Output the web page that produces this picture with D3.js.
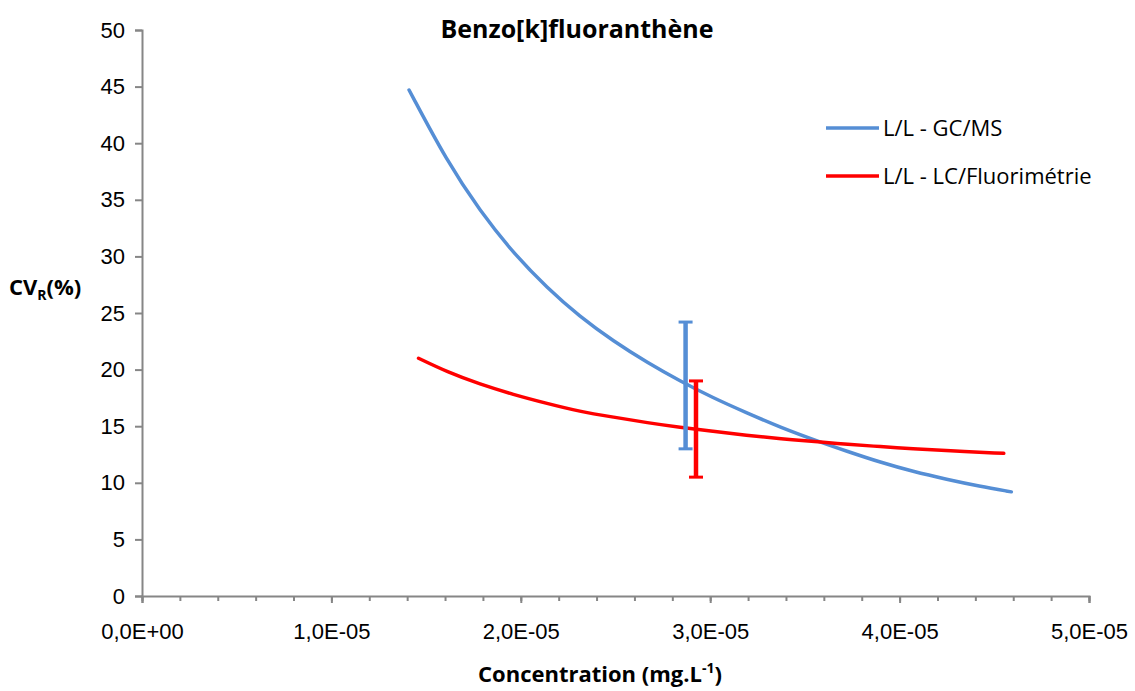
<!DOCTYPE html>
<html>
<head>
<meta charset="utf-8">
<script src="https://cdn.jsdelivr.net/npm/d3@7"></script>
<style>
  body { margin: 0; background: #fff; }
  svg { font-family: "Open Sans", sans-serif; }
</style>
</head>
<body>
<svg id="chart" width="1135" height="691"></svg>
<script>
// Values
const seriesNames = ["L/L - GC/MS", "L/L - LC/Fluorimétrie"];
const seriesColors = ["#558ed5", "#ff0000"];

// concentration (mg/L), CV_R (%)
const gcmsX = [1.41e-5, 1.61e-5, 1.785e-5, 1.96e-5, 2.14e-5, 2.31e-5, 2.49e-5, 2.67e-5, 2.84e-5,
  3.015e-5, 3.19e-5, 3.37e-5, 3.58e-5, 3.72e-5, 3.90e-5, 4.07e-5, 4.25e-5, 4.42e-5, 4.59e-5];
const gcmsY = [44.7, 38.4, 34.0, 30.3, 27.2, 24.7, 22.5, 20.6, 19.0,
  17.5, 16.2, 14.9, 13.6, 12.8, 11.8, 11.0, 10.3, 9.7, 9.2];

const lcX = [1.46e-5, 1.61e-5, 1.785e-5, 1.96e-5, 2.14e-5, 2.31e-5, 2.49e-5, 2.67e-5, 2.84e-5,
  3.015e-5, 3.19e-5, 3.37e-5, 3.58e-5, 3.72e-5, 3.90e-5, 4.07e-5, 4.25e-5, 4.55e-5];
const lcY = [21.0, 19.8, 18.7, 17.8, 17.0, 16.3, 15.8, 15.3, 14.9,
  14.55, 14.2, 13.9, 13.6, 13.4, 13.2, 13.0, 12.85, 12.6];

// error bars: x, low, high
const errX = [2.87e-5, 2.925e-5];
const errLow = [13.0, 10.5];
const errHigh = [24.2, 19.0];

const xTicks = [0, 1e-5, 2e-5, 3e-5, 4e-5, 5e-5];
const xTickLabels = ["0,0E+00", "1,0E-05", "2,0E-05", "3,0E-05", "4,0E-05", "5,0E-05"];
const yTicks = [0, 5, 10, 15, 20, 25, 30, 35, 40, 45, 50];

const svg = d3.select("#chart");
const margin = { top: 30, right: 46, bottom: 95, left: 142 };
const width = +svg.attr("width") - margin.left - margin.right;
const height = +svg.attr("height") - margin.top - margin.bottom;

const g = svg.append("g")
  .attr("transform", `translate(${margin.left},${margin.top})`);

const x = d3.scaleLinear().domain([0, 5e-5]).range([0, width]);
const y = d3.scaleLinear().domain([0, 50]).range([height, 0]);

const axisColor = "#868686";

// Y axis
const yAxis = g.append("g")
  .call(d3.axisLeft(y).tickValues(yTicks).tickSize(7).tickPadding(10));
yAxis.selectAll("text").attr("font-size", 22).attr("fill", "#000");

// X axis (minor ticks every 2E-06)
g.append("g")
  .attr("transform", `translate(0,${height})`)
  .call(d3.axisBottom(x).tickValues(d3.range(0, 26).map(i => i * 2e-6)).tickSize(5).tickFormat(""))
  .call(a => a.select(".domain").remove());
const xAxis = g.append("g")
  .attr("transform", `translate(0,${height})`)
  .call(d3.axisBottom(x).tickValues(xTicks).tickSize(7).tickPadding(20)
    .tickFormat((d, i) => xTickLabels[i]));
xAxis.selectAll("text").attr("font-size", 22).attr("fill", "#000");

g.selectAll(".domain, .tick line").attr("stroke", axisColor).attr("stroke-width", 2);

// Title
svg.append("text")
  .attr("x", 577).attr("y", 38)
  .attr("text-anchor", "middle")
  .attr("font-size", 25).attr("font-weight", "bold")
  .text("Benzo[k]fluoranthène");

// Axis labels
const yl = svg.append("text")
  .attr("x", 9).attr("y", 295)
  .attr("font-size", 22).attr("font-weight", "bold");
yl.append("tspan").text("CV");
yl.append("tspan").attr("font-size", 14).attr("dy", 5).text("R");
yl.append("tspan").attr("dy", -5).text("(%)");

const xl = svg.append("text")
  .attr("x", 600).attr("y", 682)
  .attr("text-anchor", "middle")
  .attr("font-size", 22).attr("font-weight", "bold");
xl.append("tspan").text("Concentration (mg.L");
xl.append("tspan").attr("font-size", 14).attr("dy", -9).text("-1");
xl.append("tspan").attr("dy", 9).text(")");

// Curves
const line = d3.line()
  .x(d => x(d[0]))
  .y(d => y(d[1]))
  .curve(d3.curveBasis);

const series = [d3.zip(gcmsX, gcmsY), d3.zip(lcX, lcY)];
series.forEach((s, i) => {
  g.append("path")
    .datum(s)
    .attr("fill", "none")
    .attr("stroke", seriesColors[i])
    .attr("stroke-width", 3.5)
    .attr("stroke-linecap", "round")
    .attr("d", line);
});

// Error bars
errX.forEach((ex, i) => {
  const eb = g.append("g").attr("stroke", seriesColors[i]);
  eb.append("line")
    .attr("x1", x(ex)).attr("x2", x(ex))
    .attr("y1", y(errLow[i])).attr("y2", y(errHigh[i]))
    .attr("stroke-width", 4.5);
  [errLow[i], errHigh[i]].forEach(v => {
    eb.append("line")
      .attr("x1", x(ex) - 7).attr("x2", x(ex) + 7)
      .attr("y1", y(v)).attr("y2", y(v))
      .attr("stroke-width", 3);
  });
});

// Legend
const legend = svg.append("g").attr("transform", "translate(826,128)");
seriesNames.forEach((name, i) => {
  const row = legend.append("g").attr("transform", `translate(0,${i * 48})`);
  row.append("line")
    .attr("x1", 0).attr("x2", 53)
    .attr("stroke", seriesColors[i]).attr("stroke-width", 3.5);
  row.append("text")
    .attr("x", 57).attr("dy", "0.35em")
    .attr("font-size", 22)
    .text(name);
});
</script>
</body>
</html>
